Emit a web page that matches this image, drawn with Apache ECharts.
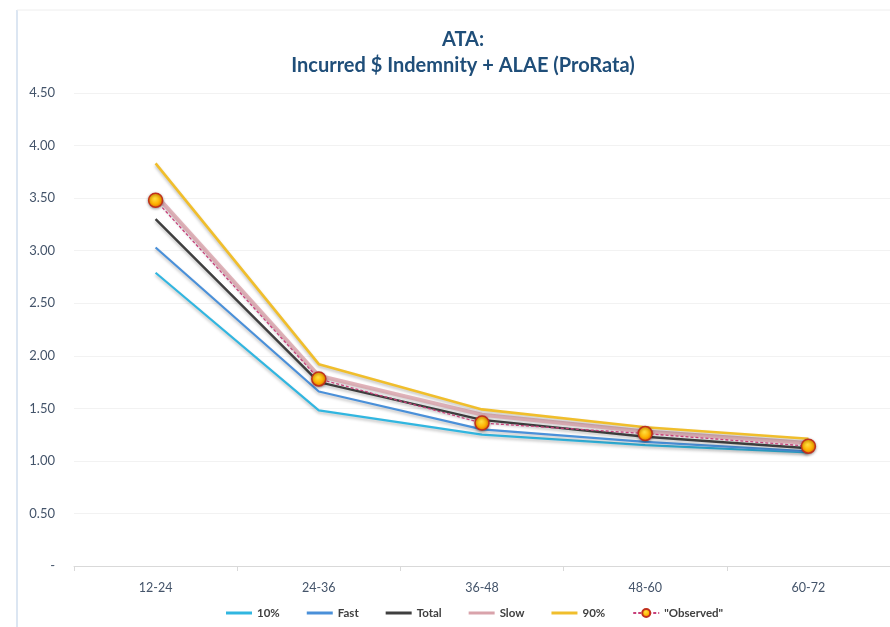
<!DOCTYPE html>
<html>
<head>
<meta charset="utf-8">
<script src="https://cdn.jsdelivr.net/npm/echarts@6/dist/echarts.min.js"></script>
<style>
  html, body { margin: 0; padding: 0; background: #ffffff; }
  #chart { width: 890px; height: 627px; }
</style>
</head>
<body>
<div id="chart"></div>
<script>
// Development periods (age-to-age)
const periods = ['12-24', '24-36', '36-48', '48-60', '60-72'];

// ATA factors by scenario
const p10      = [2.79, 1.48, 1.25, 1.15, 1.08];
const fast     = [3.03, 1.66, 1.30, 1.18, 1.09];
const total    = [3.30, 1.75, 1.39, 1.23, 1.12];
const slow     = [3.53, 1.81, 1.44, 1.28, 1.17];
const p90      = [3.83, 1.92, 1.49, 1.32, 1.21];
const observed = [3.48, 1.78, 1.36, 1.26, 1.14];

// Value-axis tick labels
const yTicks = ['-', '0.50', '1.00', '1.50', '2.00', '2.50', '3.00', '3.50', '4.00', '4.50'];

const FONT = 'Lato, "Open Sans", sans-serif';
const shadow = { shadowBlur: 3, shadowColor: 'rgba(0,0,0,0.25)', shadowOffsetY: 2 };

function lineSeries(name, data, color, width, extra) {
  return Object.assign({
    name: name,
    type: 'line',
    data: data,
    symbol: 'none',
    lineStyle: Object.assign({ color: color, width: width }, shadow),
    itemStyle: { color: color },
    z: 2
  }, extra || {});
}

const lineIcon = 'path://M0,0 L26,0 L26,3 L0,3 Z';

const chart = echarts.init(document.getElementById('chart'), null, { renderer: 'canvas' });

chart.setOption({
  animation: false,
  backgroundColor: '#ffffff',
  title: {
    text: 'ATA:\nIncurred $ Indemnity + ALAE (ProRata)',
    left: 458,
    top: 22,
    textAlign: 'center',
    textStyle: {
      fontFamily: FONT,
      fontSize: 20,
      fontWeight: 'bold',
      color: '#1f4e79',
      lineHeight: 26
    }
  },
  graphic: [
    { type: 'line', shape: { x1: 17, y1: 10, x2: 17, y2: 627 }, style: { stroke: '#dce6f2', lineWidth: 2 } },
    { type: 'line', shape: { x1: 17, y1: 10, x2: 890, y2: 10 }, style: { stroke: '#eeeeee', lineWidth: 1 } }
  ],
  legend: {
    bottom: 3,
    left: 221,
    itemWidth: 26,
    itemHeight: 10,
    itemGap: 27,
    textStyle: { fontFamily: FONT, fontSize: 11.5, fontWeight: 'bold', color: '#404040' },
    data: [
      { name: '10%', icon: lineIcon, itemStyle: { color: '#31b6e0' } },
      { name: 'Fast', icon: lineIcon, itemStyle: { color: '#4a90d9' } },
      { name: 'Total', icon: lineIcon, itemStyle: { color: '#3f3f3f' } },
      { name: 'Slow', icon: lineIcon, itemStyle: { color: '#d9a3ab' } },
      { name: '90%', icon: lineIcon, itemStyle: { color: '#f0be2c' } },
      { name: '"Observed"' }
    ]
  },
  grid: { left: 74, right: -2, top: 93, bottom: 61, containLabel: false },
  xAxis: {
    type: 'category',
    data: periods,
    boundaryGap: true,
    axisLine: { lineStyle: { color: '#d9d9d9', width: 1 } },
    axisTick: { show: true, lineStyle: { color: '#d9d9d9' } },
    axisLabel: { fontFamily: FONT, fontSize: 12.5, color: '#44546a', margin: 15 }
  },
  yAxis: {
    type: 'value',
    min: 0,
    max: 4.5,
    interval: 0.5,
    axisLine: { show: false },
    axisTick: { show: false },
    splitLine: { lineStyle: { color: '#f2f2f2', width: 1 } },
    axisLabel: {
      fontFamily: FONT,
      fontSize: 13,
      color: '#44546a',
      margin: 19,
      formatter: function (v) { return yTicks[Math.round(v / 0.5)]; }
    }
  },
  series: [
    lineSeries('10%', p10, '#31b6e0', 2.2),
    lineSeries('Fast', fast, '#4a90d9', 2.2),
    lineSeries('Total', total, '#3f3f3f', 2.4),
    lineSeries('Slow', slow, '#d9a3ab', 4, { lineStyle: Object.assign({ color: 'rgba(214,150,160,0.7)', width: 4 }, shadow), itemStyle: { color: '#d9a3ab' } }),
    lineSeries('90%', p90, '#f0be2c', 2.6),
    {
      name: '"Observed"',
      type: 'line',
      data: observed,
      symbol: 'circle',
      symbolSize: 14,
      z: 5,
      lineStyle: { color: '#c8407a', width: 1.3, type: [3, 2] },
      itemStyle: {
        color: {
          type: 'radial', x: 0.45, y: 0.4, r: 0.6,
          colorStops: [
            { offset: 0, color: '#ffe040' },
            { offset: 0.6, color: '#ffb000' },
            { offset: 1, color: '#f07800' }
          ]
        },
        borderColor: '#c0301c',
        borderWidth: 1.5,
        shadowBlur: 3,
        shadowColor: 'rgba(0,0,0,0.35)',
        shadowOffsetY: 1
      }
    }
  ]
});
</script>
</body>
</html>
